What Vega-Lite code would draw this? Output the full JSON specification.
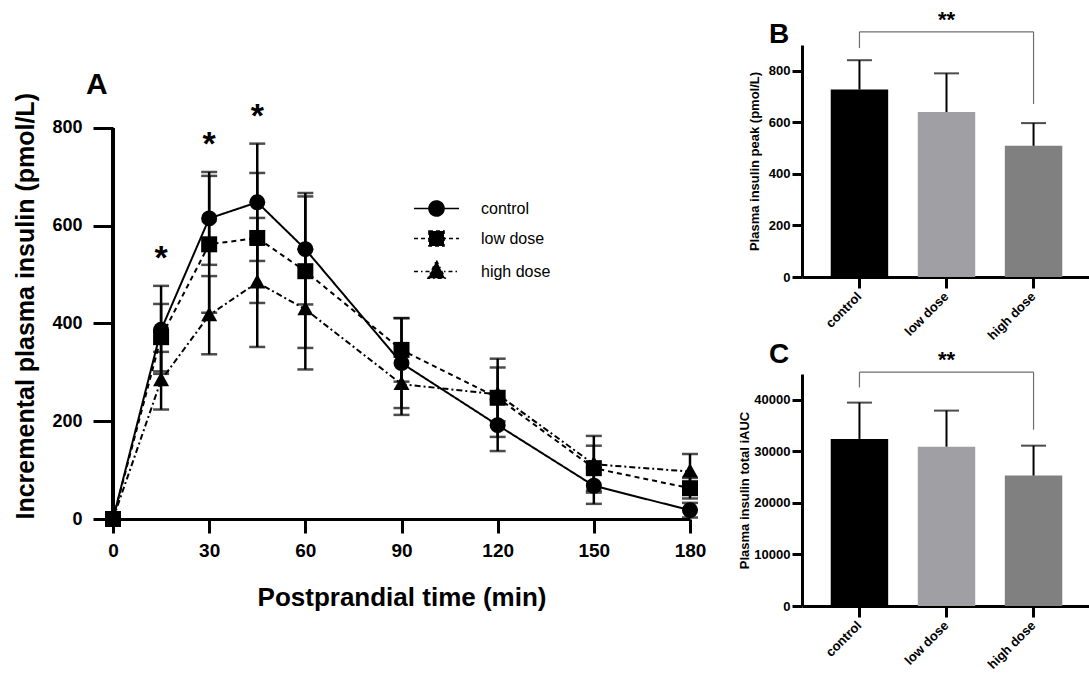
{
  "$schema": "https://vega.github.io/schema/vega-lite/v6.json",
  "background": "white",
  "padding": {"left": 13, "top": 8, "right": 0, "bottom": 0},
  "bounds": "flush",
  "spacing": 112,
  "config": {
    "font": "Liberation Sans",
    "view": {"stroke": null},
    "axis": {"domainColor": "black", "tickColor": "black", "labelColor": "black", "titleColor": "black", "grid": false, "labelFontWeight": "bold", "titleFontWeight": "bold", "labelFont": "Liberation Sans", "titleFont": "Liberation Sans", "domainWidth": 3, "tickWidth": 3},
    "title": {"font": "Liberation Sans", "fontWeight": "bold", "color": "black", "anchor": "start", "frame": "group", "baseline": "alphabetic", "offset": 0},
    "text": {"font": "Liberation Sans", "color": "black"},
    "legend": {"labelFont": "Liberation Sans", "labelColor": "black"}
  },
  "datasets": {
    "series": [
      {"group": "control", "t": 0, "mean": 0, "lo": 0, "hi": 0},
      {"group": "control", "t": 15, "mean": 387, "lo": 297, "hi": 477, "sig": "*"},
      {"group": "control", "t": 30, "mean": 615, "lo": 520, "hi": 710, "sig": "*"},
      {"group": "control", "t": 45, "mean": 648, "lo": 528, "hi": 768, "sig": "*"},
      {"group": "control", "t": 60, "mean": 552, "lo": 439, "hi": 667},
      {"group": "control", "t": 90, "mean": 319, "lo": 227, "hi": 411},
      {"group": "control", "t": 120, "mean": 192, "lo": 139, "hi": 245},
      {"group": "control", "t": 150, "mean": 68, "lo": 31, "hi": 105},
      {"group": "control", "t": 180, "mean": 18, "lo": 3, "hi": 33},
      {"group": "low dose", "t": 0, "mean": 0, "lo": 0, "hi": 0},
      {"group": "low dose", "t": 15, "mean": 372, "lo": 302, "hi": 440},
      {"group": "low dose", "t": 30, "mean": 562, "lo": 422, "hi": 702},
      {"group": "low dose", "t": 45, "mean": 575, "lo": 442, "hi": 708},
      {"group": "low dose", "t": 60, "mean": 507, "lo": 350, "hi": 660},
      {"group": "low dose", "t": 90, "mean": 346, "lo": 281, "hi": 411},
      {"group": "low dose", "t": 120, "mean": 248, "lo": 168, "hi": 328},
      {"group": "low dose", "t": 150, "mean": 104, "lo": 58, "hi": 150},
      {"group": "low dose", "t": 180, "mean": 63, "lo": 42, "hi": 84},
      {"group": "high dose", "t": 0, "mean": 0, "lo": 0, "hi": 0},
      {"group": "high dose", "t": 15, "mean": 284, "lo": 224, "hi": 342},
      {"group": "high dose", "t": 30, "mean": 417, "lo": 337, "hi": 497},
      {"group": "high dose", "t": 45, "mean": 484, "lo": 352, "hi": 616},
      {"group": "high dose", "t": 60, "mean": 429, "lo": 306, "hi": 552},
      {"group": "high dose", "t": 90, "mean": 276, "lo": 213, "hi": 339},
      {"group": "high dose", "t": 120, "mean": 255, "lo": 200, "hi": 310},
      {"group": "high dose", "t": 150, "mean": 112, "lo": 54, "hi": 170},
      {"group": "high dose", "t": 180, "mean": 97, "lo": 61, "hi": 133}
    ],
    "peak": [
      {"group": "control", "mean": 727, "hi": 841},
      {"group": "low dose", "mean": 640, "hi": 790},
      {"group": "high dose", "mean": 509, "hi": 597}
    ],
    "peakBracketV": [
      {"group": "control", "top": 951, "bottom": 888},
      {"group": "high dose", "top": 951, "bottom": 671}
    ],
    "peakBracketH": [
      {"group": "control", "group2": "high dose", "y": 951}
    ],
    "peakStar": [
      {"group": "low dose", "y": 951, "label": "**"}
    ],
    "auc": [
      {"group": "control", "mean": 32400, "hi": 39450},
      {"group": "low dose", "mean": 30900, "hi": 37900},
      {"group": "high dose", "mean": 25300, "hi": 31100}
    ],
    "aucBracketV": [
      {"group": "control", "top": 45365, "bottom": 42385},
      {"group": "high dose", "top": 45365, "bottom": 34200}
    ],
    "aucBracketH": [
      {"group": "control", "group2": "high dose", "y": 45365}
    ],
    "aucStar": [
      {"group": "low dose", "y": 45365, "label": "**"}
    ]
  },
  "hconcat": [
    {
      "width": 577,
      "height": 474,
      "title": {"text": "A", "dx": -27, "dy": 59, "fontSize": 30},
      "data": {"name": "series"},
      "resolve": {"scale": {"shape": "independent", "strokeDash": "independent"}},
      "layer": [
        {
          "mark": {"type": "line", "color": "black", "strokeWidth": 2},
          "encoding": {
            "x": {"field": "t", "type": "quantitative", "scale": {"domain": [0, 180], "nice": false},
              "axis": {"values": [0, 30, 60, 90, 120, 150, 180], "title": "Postprandial time (min)", "titleFontSize": 26, "labelFontSize": 19, "tickSize": 14, "labelPadding": 8, "titlePadding": 24, "labelFlush": false}},
            "y": {"field": "mean", "type": "quantitative", "scale": {"domain": [0, 969.8], "nice": false},
              "axis": {"values": [0, 200, 400, 600, 800], "domain": false, "title": "Incremental plasma insulin (pmol/L)", "titleAnchor": "start", "titleFontSize": 25, "labelFontSize": 18, "tickSize": 20, "labelPadding": 11, "titlePadding": 13, "labelFlush": false}},
            "strokeDash": {"field": "group", "type": "nominal",
              "scale": {"domain": ["control", "low dose", "high dose"], "range": [[1, 0], [5, 4], [6, 3, 2, 3]]},
              "legend": null}
          }
        },
        {
          "mark": {"type": "rule", "color": "black", "strokeWidth": 3},
          "encoding": {
            "x": {"datum": 0},
            "y": {"datum": 0},
            "y2": {"datum": 800}
          }
        },
        {
          "mark": {"type": "rule", "color": "black", "strokeWidth": 2.5},
          "encoding": {
            "x": {"field": "t", "type": "quantitative"},
            "y": {"field": "lo", "type": "quantitative"},
            "y2": {"field": "hi"}
          }
        },
        {
          "mark": {"type": "tick", "orient": "horizontal", "color": "black", "size": 16, "thickness": 2.5},
          "encoding": {
            "x": {"field": "t", "type": "quantitative"},
            "y": {"field": "lo", "type": "quantitative"}
          }
        },
        {
          "mark": {"type": "tick", "orient": "horizontal", "color": "black", "size": 16, "thickness": 2.5},
          "encoding": {
            "x": {"field": "t", "type": "quantitative"},
            "y": {"field": "hi", "type": "quantitative"}
          }
        },
        {
          "mark": {"type": "point", "filled": true, "opacity": 1, "color": "black", "strokeWidth": 0},
          "encoding": {
            "x": {"field": "t", "type": "quantitative"},
            "y": {"field": "mean", "type": "quantitative"},
            "shape": {"field": "group", "type": "nominal", "scale": {"domain": ["control", "low dose", "high dose"], "range": ["circle", "square", "M0,-1.05L1,0.75L-1,0.75Z"]}, "legend": null},
            "size": {"value": 256}
          }
        },
        {
          "transform": [{"filter": "datum.t < 0"}],
          "mark": {"type": "point", "filled": false, "opacity": 1, "color": "black", "fill": "black", "stroke": "black", "strokeWidth": 1.6},
          "encoding": {
            "x": {"field": "t", "type": "quantitative"},
            "y": {"field": "mean", "type": "quantitative"},
            "shape": {"field": "group", "type": "nominal",
              "scale": {"domain": ["control", "low dose", "high dose"], "range": ["M-3,0L3,0M-1,0A1,1,0,1,0,1,0A1,1,0,1,0,-1,0Z", "M-3,0L3,0M-1,-1L1,-1L1,1L-1,1Z", "M-3,0L3,0M0,-1.47L1.13,0.9L-1.13,0.9Z"]},
              "legend": {"orient": "none", "legendX": 315, "legendY": 155, "title": null, "symbolSize": 225, "labelFontSize": 16, "labelOffset": 36, "rowPadding": 7, "symbolStrokeWidth": 1.6, "symbolOpacity": 1}},
            "strokeDash": {"field": "group", "type": "nominal",
              "scale": {"domain": ["control", "low dose", "high dose"], "range": [[1, 0], [4, 3], [4, 3, 1.5, 3]]},
              "legend": {"orient": "none", "legendX": 315, "legendY": 155, "title": null, "symbolSize": 225, "labelFontSize": 16, "labelOffset": 36, "rowPadding": 7, "symbolStrokeWidth": 1.6, "symbolOpacity": 1}}
          }
        },
        {
          "transform": [{"filter": "datum.sig"}],
          "mark": {"type": "text", "fontSize": 34, "fontWeight": "bold", "baseline": "alphabetic", "dy": -17},
          "encoding": {
            "x": {"field": "t", "type": "quantitative"},
            "y": {"field": "hi", "type": "quantitative"},
            "text": {"field": "sig"}
          }
        }
      ]
    },
    {
      "bounds": "flush",
      "spacing": 97,
      "vconcat": [
        {
          "width": 289,
          "height": 232,
          "title": {"text": "B", "dx": -33, "dy": 44, "fontSize": 28},
          "layer": [
            {
              "data": {"name": "peak"},
              "mark": {"type": "bar"},
              "encoding": {
                "x": {"field": "group", "type": "nominal", "scale": {"domain": ["control", "low dose", "high dose"], "paddingInner": 0.34, "paddingOuter": 0.33},
                  "axis": {"title": null, "labelAngle": -45, "labelAlign": "right", "labelBaseline": "middle", "labelFontSize": 13, "tickSize": 11, "labelPadding": 6}},
                "y": {"field": "mean", "type": "quantitative", "scale": {"domain": [0, 900], "nice": false},
                  "axis": {"values": [0, 200, 400, 600, 800], "title": "Plasma insulin peak (pmol/L)", "titleFontSize": 13, "labelFontSize": 13, "tickSize": 10, "labelPadding": 2, "titlePadding": 7, "labelFlush": false}},
                "color": {"field": "group", "type": "nominal", "scale": {"domain": ["control", "low dose", "high dose"], "range": ["#000000", "#a0a0a4", "#808080"]}, "legend": null}
              }
            },
            {
              "data": {"name": "peak"},
              "mark": {"type": "rule", "color": "black", "strokeWidth": 2},
              "encoding": {
                "x": {"field": "group", "type": "nominal"},
                "y": {"field": "mean", "type": "quantitative"},
                "y2": {"field": "hi"}
              }
            },
            {
              "data": {"name": "peak"},
              "mark": {"type": "tick", "color": "black", "size": 25, "thickness": 2},
              "encoding": {
                "x": {"field": "group", "type": "nominal"},
                "y": {"field": "hi", "type": "quantitative"}
              }
            },
            {
              "data": {"name": "peakBracketV"},
              "mark": {"type": "rule", "color": "#6e6e6e", "strokeWidth": 1.2},
              "encoding": {
                "x": {"field": "group", "type": "nominal"},
                "y": {"field": "top", "type": "quantitative"},
                "y2": {"field": "bottom"}
              }
            },
            {
              "data": {"name": "peakBracketH"},
              "mark": {"type": "rule", "color": "#6e6e6e", "strokeWidth": 1.2},
              "encoding": {
                "x": {"field": "group", "type": "nominal"},
                "x2": {"field": "group2"},
                "y": {"field": "y", "type": "quantitative"}
              }
            },
            {
              "data": {"name": "peakStar"},
              "mark": {"type": "text", "fontSize": 22, "fontWeight": "bold", "baseline": "alphabetic", "dy": -5},
              "encoding": {
                "x": {"field": "group", "type": "nominal"},
                "y": {"field": "y", "type": "quantitative"},
                "text": {"field": "label"}
              }
            }
          ]
        },
        {
          "width": 289,
          "height": 232,
          "title": {"text": "C", "dx": -33, "dy": 24, "fontSize": 28},
          "layer": [
            {
              "data": {"name": "auc"},
              "mark": {"type": "bar"},
              "encoding": {
                "x": {"field": "group", "type": "nominal", "scale": {"domain": ["control", "low dose", "high dose"], "paddingInner": 0.34, "paddingOuter": 0.33},
                  "axis": {"title": null, "labelAngle": -45, "labelAlign": "right", "labelBaseline": "middle", "labelFontSize": 13, "tickSize": 11, "labelPadding": 6}},
                "y": {"field": "mean", "type": "quantitative", "scale": {"domain": [0, 45000], "nice": false},
                  "axis": {"values": [0, 10000, 20000, 30000, 40000], "format": "d", "title": "Plasma insulin total iAUC", "titleFontSize": 13, "labelFontSize": 13, "tickSize": 10, "labelPadding": 2, "titlePadding": 2, "labelFlush": false}},
                "color": {"field": "group", "type": "nominal", "scale": {"domain": ["control", "low dose", "high dose"], "range": ["#000000", "#a0a0a4", "#808080"]}, "legend": null}
              }
            },
            {
              "data": {"name": "auc"},
              "mark": {"type": "rule", "color": "black", "strokeWidth": 2},
              "encoding": {
                "x": {"field": "group", "type": "nominal"},
                "y": {"field": "mean", "type": "quantitative"},
                "y2": {"field": "hi"}
              }
            },
            {
              "data": {"name": "auc"},
              "mark": {"type": "tick", "color": "black", "size": 25, "thickness": 2},
              "encoding": {
                "x": {"field": "group", "type": "nominal"},
                "y": {"field": "hi", "type": "quantitative"}
              }
            },
            {
              "data": {"name": "aucBracketV"},
              "mark": {"type": "rule", "color": "#6e6e6e", "strokeWidth": 1.2},
              "encoding": {
                "x": {"field": "group", "type": "nominal"},
                "y": {"field": "top", "type": "quantitative"},
                "y2": {"field": "bottom"}
              }
            },
            {
              "data": {"name": "aucBracketH"},
              "mark": {"type": "rule", "color": "#6e6e6e", "strokeWidth": 1.2},
              "encoding": {
                "x": {"field": "group", "type": "nominal"},
                "x2": {"field": "group2"},
                "y": {"field": "y", "type": "quantitative"}
              }
            },
            {
              "data": {"name": "aucStar"},
              "mark": {"type": "text", "fontSize": 22, "fontWeight": "bold", "baseline": "alphabetic", "dy": -5},
              "encoding": {
                "x": {"field": "group", "type": "nominal"},
                "y": {"field": "y", "type": "quantitative"},
                "text": {"field": "label"}
              }
            }
          ]
        }
      ]
    }
  ]
}
